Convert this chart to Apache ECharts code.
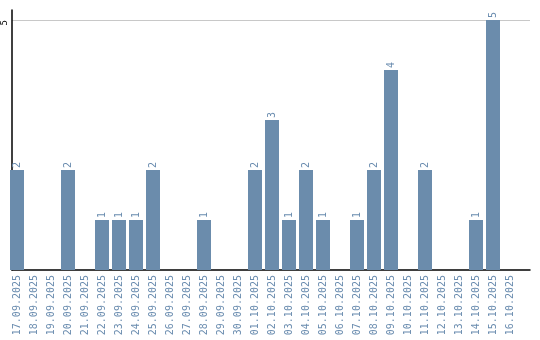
<!DOCTYPE html>
<html><head><meta charset="utf-8">
<script src="https://cdn.jsdelivr.net/npm/echarts@6/dist/echarts.min.js"></script>
<style>html,body{margin:0;padding:0;background:#fff}#c{width:540px;height:340px}</style>
</head><body><div id="c"></div>
<script>
const categories = ['17.09.2025','18.09.2025','19.09.2025','20.09.2025','21.09.2025','22.09.2025','23.09.2025','24.09.2025','25.09.2025','26.09.2025','27.09.2025','28.09.2025','29.09.2025','30.09.2025','01.10.2025','02.10.2025','03.10.2025','04.10.2025','05.10.2025','06.10.2025','07.10.2025','08.10.2025','09.10.2025','10.10.2025','11.10.2025','12.10.2025','13.10.2025','14.10.2025','15.10.2025','16.10.2025'];
const values = [2,0,0,2,0,1,1,1,2,0,0,1,0,0,2,3,1,2,1,0,1,2,4,0,2,0,0,1,5,0];
const yMax = 5.2;
const yInterval = 5;

const txt = '#6a8caf';
const font = 'DejaVu Sans Mono';
const chart = echarts.init(document.getElementById('c'));
chart.setOption({
  animation: false,
  grid: [
    {left: 10, right: 10, top: 10, bottom: 70},
    {left: 8.5, width: 510, top: 10, bottom: 70}
  ],
  xAxis: [
    {gridIndex: 0, type: 'value', min: 0, max: 1, axisLine: {show: true, lineStyle: {color: '#000', width: 1.5}}, axisTick: {show: false}, axisLabel: {show: false}, splitLine: {show: false}},
    {gridIndex: 1, type: 'category', data: categories, axisLine: {show: false}, axisTick: {show: false},
     axisLabel: {interval: 0, rotate: 90, margin: 5, color: txt, fontFamily: font, fontSize: 10}}
  ],
  yAxis: [
    {gridIndex: 0, type: 'value', min: 0, max: yMax, interval: yInterval,
     axisLine: {show: true, lineStyle: {color: '#000', width: 1.5}}, axisTick: {show: false},
     axisLabel: {showMinLabel: false, showMaxLabel: false, rotate: 90, margin: 3, align: 'right', verticalAlign: 'bottom',
                 color: '#000', fontFamily: font, fontSize: 9,
                 formatter: v => (v === yInterval ? String(v) : '')},
     splitLine: {show: true, showMinLine: false, showMaxLine: false, lineStyle: {color: '#c8c8c8', width: 1}}},
    {gridIndex: 1, type: 'value', min: 0, max: yMax, show: false}
  ],
  series: [{
    type: 'bar', xAxisIndex: 1, yAxisIndex: 1, data: values.map(v => v === 0 ? null : v), barWidth: 14,
    itemStyle: {color: '#6b8cac'},
    label: {show: true, position: 'top', rotate: 90, align: 'left', verticalAlign: 'middle', distance: 2,
            color: txt, fontFamily: font, fontSize: 10}
  }]
});
</script></body></html>
